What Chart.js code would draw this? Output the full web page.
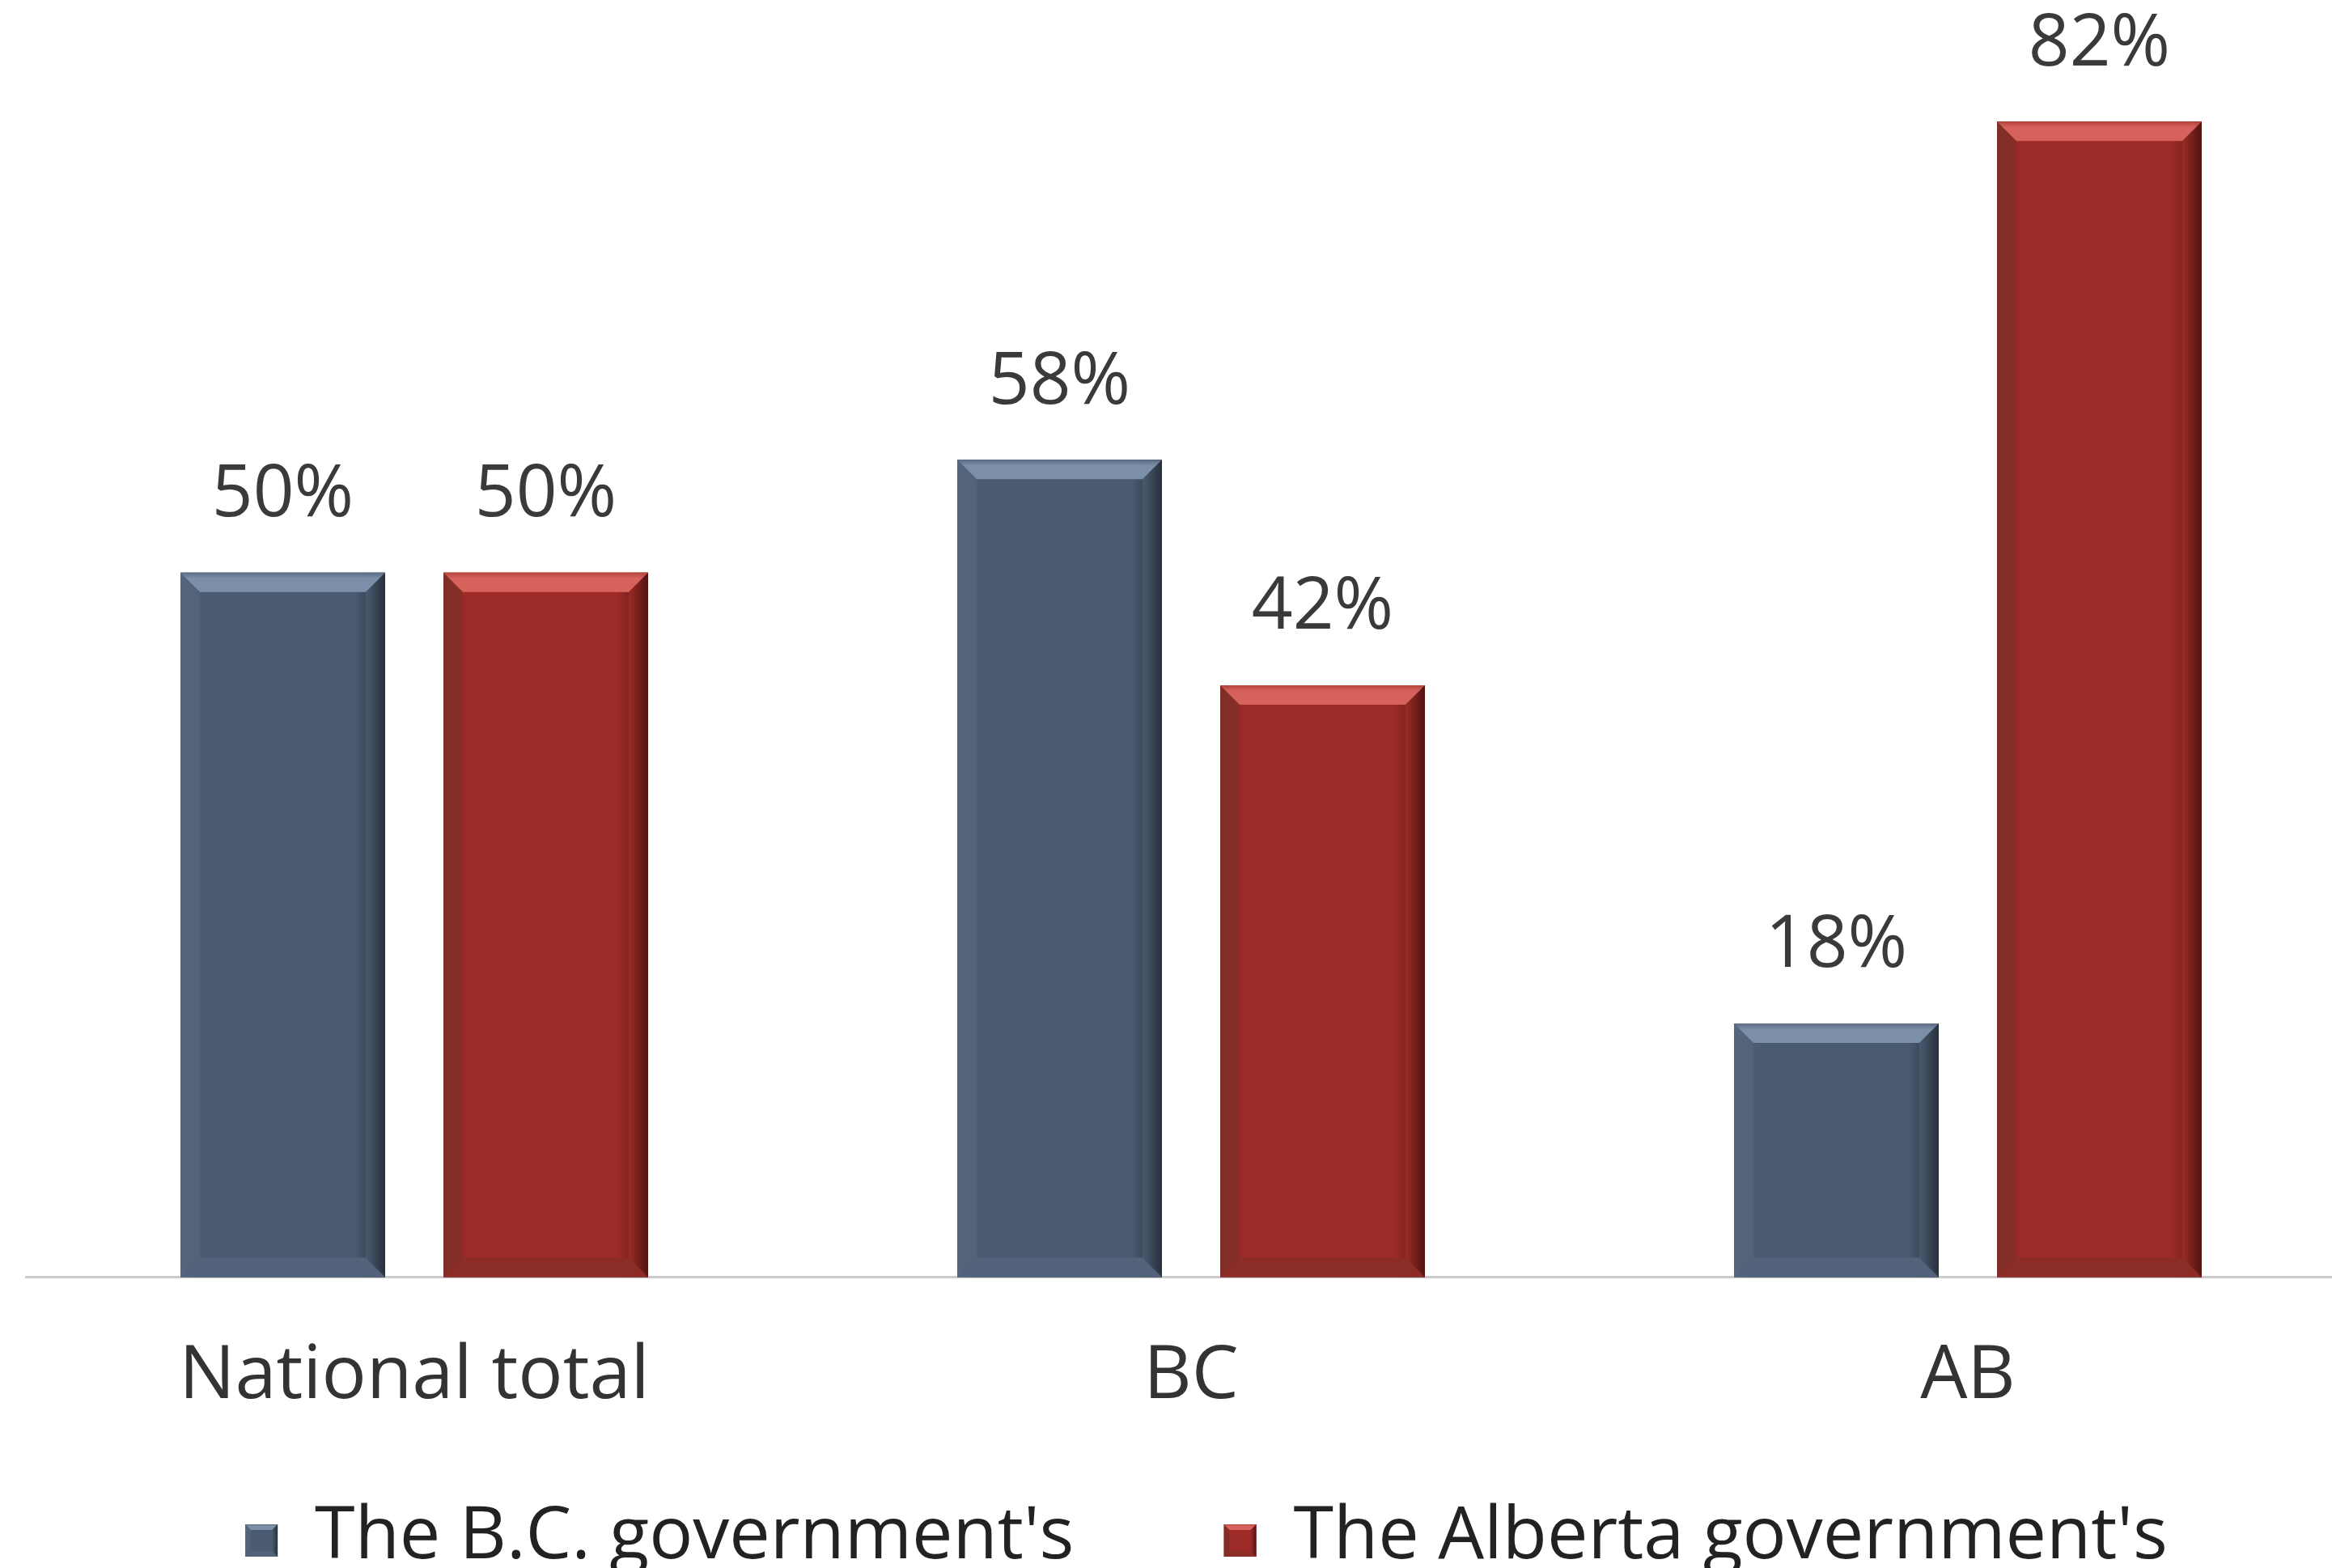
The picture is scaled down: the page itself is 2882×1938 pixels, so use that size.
<!DOCTYPE html>
<html>
<head>
<meta charset="utf-8">
<script src="https://cdn.jsdelivr.net/npm/chart.js@4.4.0/dist/chart.umd.min.js"></script>
<style>
    html, body { margin: 0; padding: 0; background: #ffffff; overflow: hidden; }
    #wrap { width: 2912px; height: 1938px; position: relative; }
</style>
</head>
<body>
<div id="wrap"><canvas id="main-chart"></canvas></div>
<script>
// Chart data
const categories = ["National total", "BC", "AB"];
const seriesNames = ["The B.C. government's", "The Alberta government's"];
const bcValues = [50, 58, 18];
const albertaValues = [50, 42, 82];
const yMax = 90;

// Bevel colours for each series
const barStyles = [
    { main: "#4a5a70", top: "#7b8fa9", topEdge: "#5c6c82", left: "#56667d", right: "#26313d", bottom: "#52627a" },
    { main: "#9d2b27", top: "#d6635b", topEdge: "#b5443d", left: "#7f2f28", right: "#521412", bottom: "#8c2c27" },
];

const fontFamily = "'Open Sans', 'Noto Sans', sans-serif";

// Draws a bevelled rectangle like the Office "bevel" bar effect
function drawBevel(ctx, L, T, R, B, b, s) {
    ctx.save();
    let g = ctx.createLinearGradient(L, 0, R, 0);
    g.addColorStop(0, s.left);
    g.addColorStop(0.12, s.main);
    g.addColorStop(0.85, s.main);
    g.addColorStop(1, s.right);
    ctx.fillStyle = g;
    ctx.fillRect(L, T, R - L, B - T);

    // left bevel
    ctx.fillStyle = s.left;
    ctx.globalAlpha = 0.6;
    ctx.beginPath();
    ctx.moveTo(L, T); ctx.lineTo(L + b, T + b); ctx.lineTo(L + b, B - b); ctx.lineTo(L, B);
    ctx.closePath(); ctx.fill();

    // right bevel
    g = ctx.createLinearGradient(R - b, 0, R, 0);
    g.addColorStop(0, s.main);
    g.addColorStop(1, s.right);
    ctx.globalAlpha = 1;
    ctx.fillStyle = g;
    ctx.beginPath();
    ctx.moveTo(R, T); ctx.lineTo(R - b, T + b); ctx.lineTo(R - b, B - b); ctx.lineTo(R, B);
    ctx.closePath(); ctx.fill();

    // bottom bevel
    ctx.fillStyle = s.bottom;
    ctx.beginPath();
    ctx.moveTo(L, B); ctx.lineTo(L + b, B - b); ctx.lineTo(R - b, B - b); ctx.lineTo(R, B);
    ctx.closePath(); ctx.fill();

    // top bevel
    g = ctx.createLinearGradient(0, T, 0, T + b);
    g.addColorStop(0, s.topEdge);
    g.addColorStop(0.3, s.top);
    g.addColorStop(1, s.top);
    ctx.fillStyle = g;
    ctx.beginPath();
    ctx.moveTo(L, T); ctx.lineTo(R, T); ctx.lineTo(R - b, T + b); ctx.lineTo(L + b, T + b);
    ctx.closePath(); ctx.fill();
    ctx.restore();
}

// Bevel + value labels on top of each bar
const bevelBars = {
    id: "bevelBars",
    afterDatasetsDraw(chart) {
        const ctx = chart.ctx;
        chart.data.datasets.forEach((ds, i) => {
            const meta = chart.getDatasetMeta(i);
            meta.data.forEach((bar, j) => {
                const p = bar.getProps(["x", "y", "base", "width"], true);
                const L = p.x - p.width / 2;
                const R = p.x + p.width / 2;
                drawBevel(ctx, L, p.y, R, p.base, 24, barStyles[i]);

                ctx.save();
                ctx.font = "89px " + fontFamily;
                ctx.fillStyle = "#3a3a3a";
                ctx.textAlign = "center";
                ctx.textBaseline = "middle";
                ctx.fillText(ds.data[j] + "%", p.x, p.y - 95);
                ctx.restore();
            });
        });
    },
};

// Legend drawn at the bottom with wide spacing between the items
const bottomLegend = {
    id: "bottomLegend",
    afterDraw(chart) {
        const ctx = chart.ctx;
        const box = 40;
        const gap = 46;
        const itemGap = 185;
        const cy = chart.height - 38;
        ctx.save();
        ctx.font = "90px " + fontFamily;
        const widths = chart.data.datasets.map((ds) => ctx.measureText(ds.label).width);
        const total = widths.reduce((a, w) => a + box + gap + w, 0) + itemGap * (widths.length - 1);
        let x = 1491 - total / 2;
        chart.data.datasets.forEach((ds, i) => {
            drawBevel(ctx, x, cy - box / 2 + 4, x + box, cy + box / 2 + 4, 7, barStyles[i]);
            ctx.fillStyle = "#222222";
            ctx.textAlign = "left";
            ctx.textBaseline = "middle";
            ctx.fillText(ds.label, x + box + gap, cy);
            x += box + gap + widths[i] + itemGap;
        });
        ctx.restore();
    },
};

const chartCanvas = document.getElementById("main-chart");

const mainChart = new Chart(chartCanvas, {
    type: "bar",
    data: {
        labels: categories,
        datasets: [
            {
                label: seriesNames[0],
                backgroundColor: barStyles[0].main,
                borderWidth: 0,
                data: bcValues,
            },
            {
                label: seriesNames[1],
                backgroundColor: barStyles[1].main,
                borderWidth: 0,
                data: albertaValues,
            },
        ],
    },
    options: {
        responsive: true,
        maintainAspectRatio: false,
        animation: false,
        categoryPercentage: 0.677,
        barPercentage: 0.778,
        layout: {
            padding: { top: 11, left: 32, right: 0, bottom: 113 },
        },
        plugins: {
            legend: { display: false },
            tooltip: { enabled: false },
        },
        scales: {
            x: {
                grid: { display: false, drawTicks: false },
                border: { display: true, color: "#cbcbcb", width: 3 },
                ticks: {
                    color: "#333333",
                    padding: 68,
                    font: { size: 92, family: fontFamily },
                },
            },
            y: {
                display: false,
                beginAtZero: true,
                min: 0,
                max: yMax,
            },
        },
    },
    plugins: [bevelBars, bottomLegend],
});

mainChart.update();
</script>
</body>
</html>
